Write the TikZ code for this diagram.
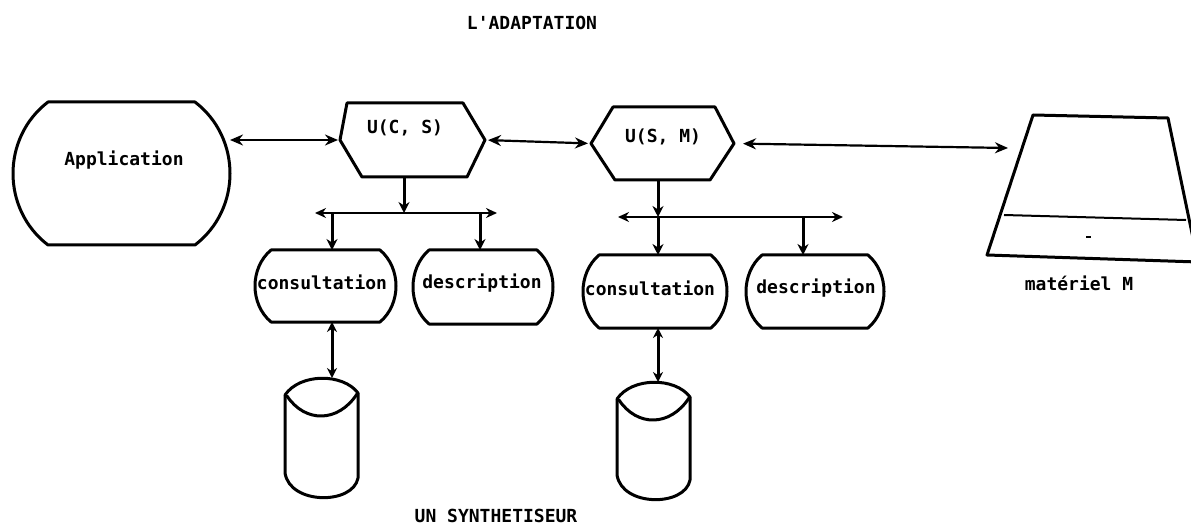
\documentclass[tikz,border=0pt]{standalone}
\usepackage{fontspec}
\setmonofont{DejaVu Sans Mono}
\usetikzlibrary{arrows.meta,calc}

\tikzset{
  shp/.style={line width=3pt, line join=round, line cap=round},
  link/.style={line width=2.2pt,
    {Stealth[length=13pt,width=11pt]}-{Stealth[length=13pt,width=11pt]}},
  bus/.style={line width=2pt,
    {Stealth[length=11pt,width=10pt]}-{Stealth[length=11pt,width=10pt]}},
  drop/.style={line width=3pt, -{Stealth[length=11pt,width=11pt]}},
  dual/.style={line width=3pt,
    {Stealth[length=10pt,width=10pt]}-{Stealth[length=10pt,width=10pt]}},
  lbl/.style={font=\ttfamily\bfseries\fontsize{18}{20}\selectfont, inner sep=0pt},
  frame/.style={inner sep=0pt, outer sep=0pt, draw=none}
}

% invisible frame node spanning x0..x1, y0..y1 (y grows downwards)
\newcommand\framenode[5]{%
  \node[frame, minimum width={(#4-#2)*1pt}, minimum height={(#5-#3)*1pt}]
    (#1) at ({(#2+#4)/2},{(#3+#5)/2}) {};}

% rounded-side "barrel" outline: x0,y0,x1,y1,inset
\newcommand\barrel[5]{%
  \draw[shp] ({#1+#5},#2) -- ({#3-#5},#2)
    .. controls ({#3+#5/3},{#2+(#4-#2)/4}) and ({#3+#5/3},{#4-(#4-#2)/4}) .. ({#3-#5},#4)
    -- ({#1+#5},#4)
    .. controls ({#1-#5/3},{#4-(#4-#2)/4}) and ({#1-#5/3},{#2+(#4-#2)/4}) .. cycle;}

% hexagon outline: x0,y0,x1,y1, top-left, top-right, bottom-left, bottom-right insets
\newcommand\hexa[8]{%
  \draw[shp] (#1,{(#2+#4)/2}) -- ({#1+#5},#2) -- ({#3-#6},#2) -- (#3,{(#2+#4)/2})
    -- ({#3-#8},#4) -- ({#1+#7},#4) -- cycle;}

% storage drum outline: x0,y0,x1,y1
\newcommand\drum[4]{%
  \draw[shp] (#1,{#2+17}) -- (#1,{#4-25})
    .. controls ({#1+5},{#4+7}) and ({#3-5},{#4+7}) .. (#3,{#4-20}) -- (#3,{#2+15});
  \draw[shp] (#1,{#2+17}) .. controls ({#1+15},{#2-5}) and ({#3-15},{#2-5}) .. (#3,{#2+15});
  \draw[shp] ({#1+2},{#2+18}) .. controls ({#1+20},{#2+45}) and ({#3-20},{#2+45}) .. ({#3-1},{#2+16});}

\begin{document}
\begin{tikzpicture}[x=1pt, y=-1pt]
\useasboundingbox (0,0) rectangle (1191,529);

% titles
\node[lbl] (title) at (532,23) {L'ADAPTATION};
\node[lbl] (subtitle) at (496,516) {UN SYNTHETISEUR};

% application
\framenode{app}{13}{102}{230}{245}
\barrel{13}{102}{230}{245}{35}
\node[lbl] (appt) at (124,160) {Application};

% interfaces
\framenode{ucs}{340}{103}{485}{177}
\hexa{340}{103}{485}{177}{7}{22}{22}{18}
\node[lbl] (ucst) at (405,128) {U(C, S)};

\framenode{usm}{591}{107}{734}{180}
\hexa{591}{107}{734}{180}{22}{19}{24}{24}
\node[lbl] (usmt) at (663,137) {U(S, M)};

% consultation / description modules
\framenode{c1}{255}{250}{396}{322}
\barrel{255}{250}{396}{322}{16}
\node[lbl] (c1t) at (322,282) {consultation};

\framenode{d1}{413}{250}{553}{324}
\barrel{413}{250}{553}{324}{16}
\node[lbl] (d1t) at (482,283) {description};

\framenode{c2}{583}{255}{727}{328}
\barrel{583}{255}{727}{328}{16}
\node[lbl] (c2t) at (650,288) {consultation};

\framenode{d2}{746}{255}{884}{328}
\barrel{746}{255}{884}{328}{16}
\node[lbl] (d2t) at (816,288) {description};

% storage drums
\framenode{cyl1}{285}{378}{358}{498}
\drum{285}{378}{358}{498}
\framenode{cyl2}{617}{382}{690}{500}
\drum{617}{382}{690}{500}

% hardware
\framenode{hw}{987}{115}{1191}{262}
\draw[shp] (1033,115) -- (1168,118) -- (1198,262) -- (987,255) -- cycle;
\draw[line width=2pt] (1004,215) -- (1186,220);
\draw[line width=2.5pt] (1086,237) -- (1091,237);
\node[lbl] (hwt) at (1079,283) {matériel M};

% horizontal links
\draw[link, shorten >=2pt] (ucs.west -| app.east) -- (ucs.west);
\draw[link, shorten <=3pt, shorten >=3pt] (ucs.east) -- (usm.west);
\coordinate (hwport) at (1008,148);
\draw[link, shorten <=9pt] (usm.east) -- (hwport);

% first distribution bus
\coordinate (j1) at (404,213);
\coordinate (b1l) at (315,213);
\coordinate (b1r) at (497,213);
\coordinate (t1) at (332,213);
\coordinate (t2) at (480,213);
\draw[bus] (b1l) -- (b1r);
\draw[drop] (j1 |- ucs.south) -- (j1);
\draw[drop] (t1) -- (t1 |- c1.north);
\draw[drop] (t2) -- (t2 |- d1.north);
\draw[dual] (t1 |- c1.south) -- (t1 |- cyl1.north);

% second distribution bus
\coordinate (j2) at (658,217);
\coordinate (b2l) at (618,217);
\coordinate (b2r) at (843,217);
\coordinate (t3) at (803,217);
\draw[bus] (b2l) -- (b2r);
\draw[drop] (j2 |- usm.south) -- (j2);
\draw[drop] (j2) -- (j2 |- c2.north);
\draw[drop] (t3) -- (t3 |- d2.north);
\draw[dual] (j2 |- c2.south) -- (j2 |- cyl2.north);
\end{tikzpicture}
\end{document}
